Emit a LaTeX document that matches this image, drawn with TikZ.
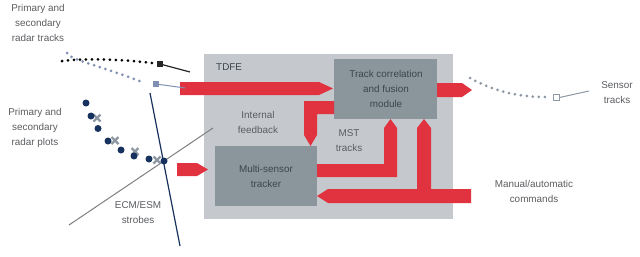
\documentclass[tikz,border=0pt]{standalone}
\usepackage{fontspec}
\setmainfont{Liberation Sans}
\definecolor{tdfegray}{HTML}{C5C9CD}
\definecolor{boxgray}{HTML}{8A959C}
\definecolor{redarrow}{HTML}{E0323F}
\definecolor{txtgray}{HTML}{5A5C60}
\definecolor{boxtxt}{HTML}{3C454C}
\definecolor{navy}{HTML}{17325E}
\definecolor{bluegray}{HTML}{8090B2}
\definecolor{xgray}{HTML}{8E98A3}
\definecolor{strobegray}{HTML}{7F7F7F}
\tikzset{
  lbl/.style={text=txtgray, align=center, font=\fontsize{9.9}{15}\selectfont, inner sep=0pt},
  boxlbl/.style={text=boxtxt, align=center, font=\fontsize{9.9}{15}\selectfont, inner sep=0pt},
  redshape/.style={fill=redarrow, draw=none},
  dotline/.style={line width=3pt, line cap=round, dash pattern=on 0pt off 6pt},
  plotdot/.style={fill=navy, draw=none},
  xmark/.style={draw=xgray, line width=2.3pt},
}
\begin{document}
\begin{tikzpicture}[x=1pt,y=-1pt]
\useasboundingbox (0,0) rectangle (640,257);
% boxes
\node[fill=tdfegray, minimum width=249pt, minimum height=165pt, anchor=north west, inner sep=0pt] (tdfe) at (204,54) {};
\node[anchor=west, text=boxtxt, font=\fontsize{9.9}{12}\selectfont, inner sep=0pt] (tdfelbl) at (216,67) {TDFE};
\node[fill=boxgray, minimum width=103pt, minimum height=60pt, anchor=north west, inner sep=0pt] (track) at (334,59) {};
\node[boxlbl] (tracklbl) at (386,89) {Track correlation\\and fusion\\module};
\node[fill=boxgray, minimum width=102pt, minimum height=60pt, anchor=north west, inner sep=0pt] (mst) at (215,146) {};
\node[boxlbl] (mstlbl) at (266,176.5) {Multi-sensor\\tracker};
% red arrows
\fill[redshape] (180,82) -- (319,82) -- (333,88.5) -- (319,95) -- (180,95) -- cycle;
\fill[redshape] (437,83) -- (462,83) -- (472,90) -- (462,97) -- (437,97) -- cycle;
\fill[redshape] (334,101) -- (304,101) -- (304,135) -- (310.5,146) -- (317,135) -- (317,114) -- (334,114) -- cycle;
\fill[redshape] (317,164) -- (384,164) -- (384,128) -- (390.5,119) -- (397,128) -- (397,177) -- (317,177) -- cycle;
\fill[redshape] (471,189) -- (431,189) -- (431,128) -- (424,119) -- (417,128) -- (417,189) -- (328,189) -- (317,196) -- (328,203) -- (471,203) -- cycle;
\fill[redshape] (177,163) -- (197,163) -- (208,169.5) -- (197,176) -- (177,176) -- cycle;
% labels
\node[lbl] (l1) at (38,23) {Primary and\\secondary\\radar tracks};
\node[lbl] (l2) at (35,128) {Primary and\\secondary\\radar plots};
\node[lbl] (l3) at (138,212) {ECM/ESM\\strobes};
\node[lbl] (l4) at (258,122) {Internal\\feedback};
\node[lbl] (l5) at (349,141) {MST\\tracks};
\node[lbl] (l6) at (617,92.5) {Sensor\\tracks};
\node[lbl] (l7) at (534,191) {Manual/automatic\\commands};
% radar tracks
\draw[dotline, black] (62,61) .. controls (85,58) and (125,59.5) .. (152,63);
\node[fill=black!85, minimum size=5.5pt, inner sep=0pt] (sq1) at (160,64) {};
\draw[black!85, line width=1.2pt] (sq1.center) -- (190,72);
\draw[dotline, bluegray] (67,53) .. controls (71,60) and (95,64) .. (145,83);
\node[fill=bluegray, minimum size=5.5pt, inner sep=0pt] (sq2) at (156,84) {};
\draw[bluegray, line width=1pt] (sq2.center) -- (185,88);
% sensor tracks
\draw[dotline, xgray] (470,78) .. controls (495,92) and (520,97) .. (546,97);
\node[fill=white, draw=xgray, line width=1pt, minimum size=6pt, inner sep=0pt] (sq3) at (556,97.5) {};
\draw[xgray, line width=1pt] (sq3.east) -- (589,91);
% strobes
\draw[strobegray, line width=1pt] (69,225) -- (213,128);
% plots
\foreach \x/\y in {97/118, 115/140.5, 135/151.5, 157/160}{
  \draw[xmark] (\x-3.5,\y-3.5) -- (\x+3.5,\y+3.5) (\x-3.5,\y+3.5) -- (\x+3.5,\y-3.5);
}
\foreach \x/\y in {86/103, 91/116, 98/128.5, 108/141, 121/150, 134/156, 149/159, 164/161}{
  \fill[plotdot] (\x,\y) circle (3.5pt);
}
\draw[navy, line width=1.2pt] (150,93) -- (180,246);
\end{tikzpicture}
\end{document}
